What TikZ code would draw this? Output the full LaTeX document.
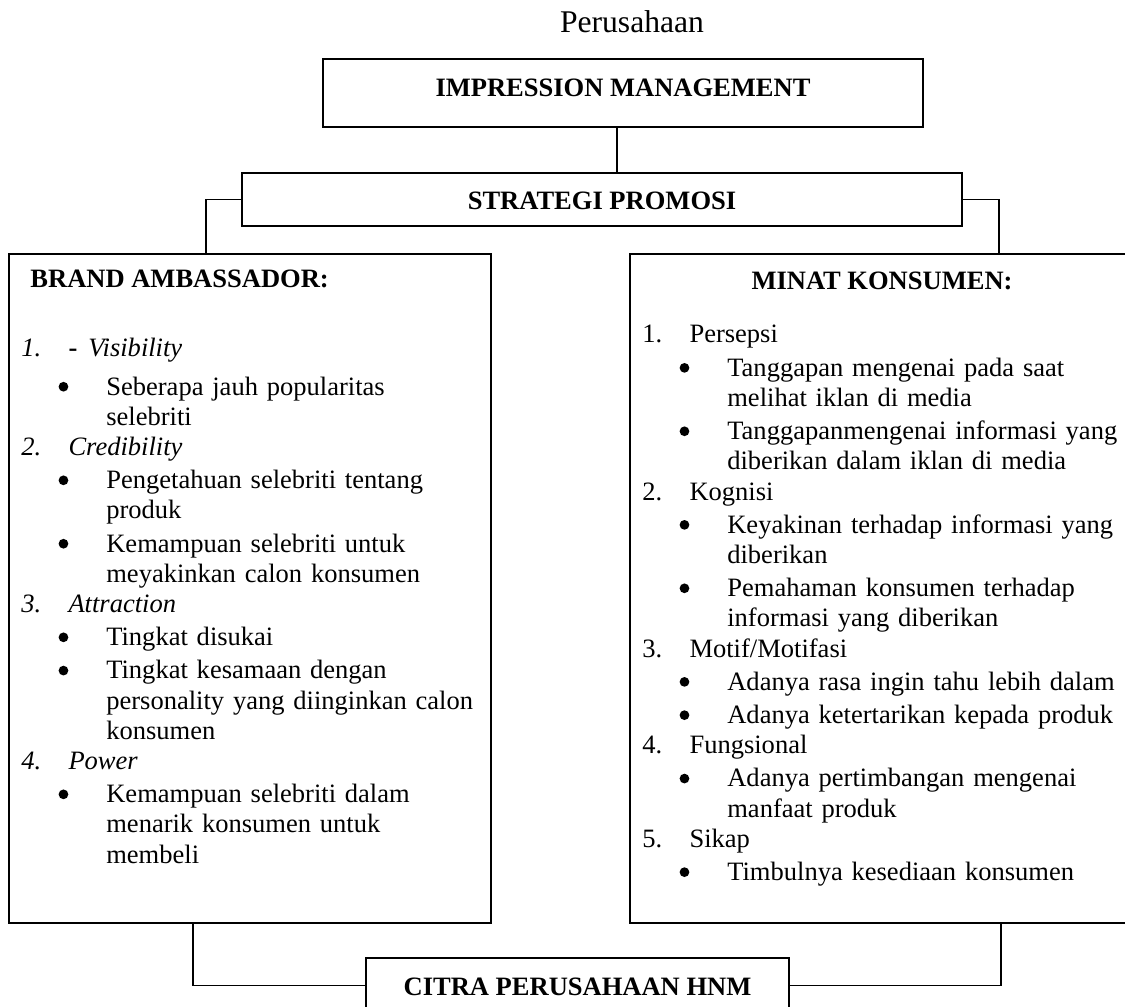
\documentclass[tikz,border=0pt]{standalone}
\usepackage{fontspec}
\setmainfont{Liberation Serif}
\tikzset{
  hmbox/.style={draw, line width=1.1pt, inner sep=0pt, anchor=base, font=\bfseries\fontsize{12}{13.6}\selectfont},
  hmpanel/.style={draw, line width=1.1pt, inner sep=0pt, anchor=north west, minimum height=302.7pt},
  hmhead/.style={inner sep=0pt, font=\bfseries\fontsize{12}{13.6}\selectfont},
  hmlist/.style={anchor=base west, inner sep=0pt, font=\fontsize{12}{13.65}\selectfont},
  hmlink/.style={line width=0.5pt},
}
\newcommand{\hmbul}{\tikz[baseline=0pt]\fill (0pt,3.8pt) circle[radius=2.2pt];}
\newcommand{\numline}[2]{\noindent\hspace*{5.9pt}\makebox[21.3pt][l]{#1}#2\par}
\newcommand{\bulline}[1]{\vspace{1.4pt}\noindent\hangindent=44.3pt\hangafter=1%
  \hspace*{24.9pt}\makebox[0pt]{\hmbul}\hspace*{19.4pt}#1\par}
\begin{document}
\begin{tikzpicture}[x=0.4525pt, y=-0.4525pt]
  \useasboundingbox (0,0) rectangle (1125,1007);

  % Title and the two upper boxes.
  \node[anchor=base, inner sep=0pt, font=\fontsize{14.3}{17}\selectfont] (corp) at (632,33) {Perusahaan};
  \node[hmbox, minimum width=271.5pt, text height=17.2pt, text depth=13.6pt] (im) at (623,97) {IMPRESSION MANAGEMENT};
  \node[hmbox, minimum width=325.8pt, text height=16.7pt, text depth=7.2pt] (sp) at (602,210) {STRATEGI PROMOSI};

  % Side panels.
  \node[hmpanel, minimum width=218.1pt] (ba) at (8,253) {};
  \node[hmpanel, minimum width=229pt] (mk) at (629,253) {};
  \node[hmhead, anchor=base west] (bahead) at ([shift={(22,35)}]ba.north west) {BRAND AMBASSADOR:};
  \node[hmhead, anchor=base] (mkhead) at ([shift={(253,37)}]mk.north west) {MINAT KONSUMEN:};

  \node[hmlist, text width=216pt] (balist) at ([shift={(0,104)}]ba.north west) {%
    \numline{\textit{1.}}{\makebox[9pt][l]{\textbf{-}}\textit{Visibility}}\vspace{2.2pt}
    \bulline{Seberapa jauh popularitas\newline selebriti}
    \numline{\textit{2.}}{\textit{Credibility}}
    \bulline{Pengetahuan selebriti tentang\newline produk}
    \bulline{Kemampuan selebriti untuk\newline meyakinkan calon konsumen}
    \numline{\textit{3.}}{\textit{Attraction}}
    \bulline{Tingkat disukai}
    \bulline{Tingkat kesamaan dengan\newline personality yang diinginkan calon\newline konsumen}
    \numline{\textit{4.}}{\textit{Power}}
    \bulline{Kemampuan selebriti dalam\newline menarik konsumen untuk\newline membeli}
  };

  \node[hmlist, text width=228pt] (mklist) at ([shift={(0,90)}]mk.north west) {%
    \numline{1.}{Persepsi}
    \bulline{Tanggapan mengenai pada saat\newline melihat iklan di media}
    \bulline{Tanggapanmengenai informasi yang\newline diberikan dalam iklan di media}
    \numline{2.}{Kognisi}
    \bulline{Keyakinan terhadap informasi yang\newline diberikan}
    \bulline{Pemahaman konsumen terhadap\newline informasi yang diberikan}
    \numline{3.}{Motif/Motifasi}
    \bulline{Adanya rasa ingin tahu lebih dalam}
    \bulline{Adanya ketertarikan kepada produk}
    \numline{4.}{Fungsional}
    \bulline{Adanya pertimbangan mengenai\newline manfaat produk}
    \numline{5.}{Sikap}
    \bulline{Timbulnya kesediaan konsumen}
  };

  % Bottom box.
  \node[hmbox, minimum width=191.4pt, text height=16.7pt, text depth=7.7pt] (citra) at (577.5,995) {CITRA PERUSAHAAN HNM};

  % Connectors.
  \draw[hmlink] (617,0 |- im.south) -- (617,0 |- sp.north);
  \draw[hmlink] (sp.west) -| (206,0 |- ba.north);
  \draw[hmlink] (sp.east) -| (999,0 |- mk.north);
  \draw[hmlink] (193,0 |- ba.south) |- (citra.west);
  \draw[hmlink] (1001,0 |- mk.south) |- (citra.east);
\end{tikzpicture}
\end{document}
